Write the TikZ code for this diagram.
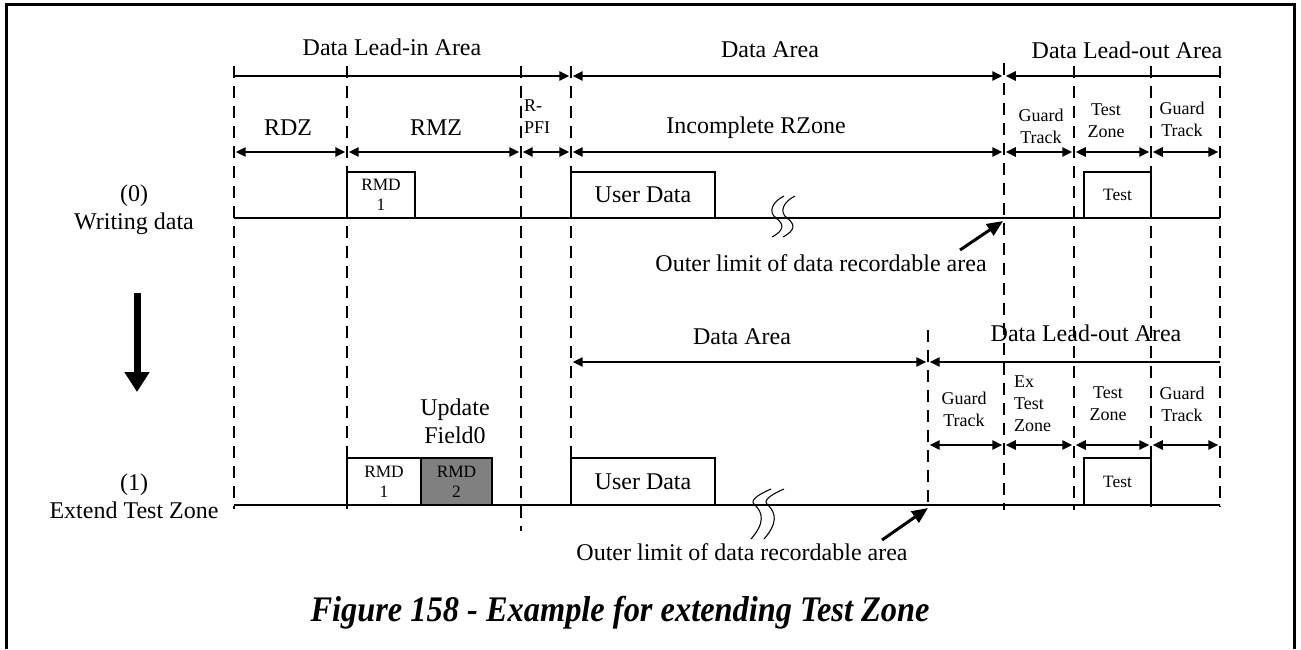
\documentclass[tikz,border=0pt]{standalone}
\usepackage{fontspec}
\usepackage{graphicx}
\setmainfont{Liberation Serif}
\usetikzlibrary{arrows.meta}
\begin{document}
\begin{tikzpicture}[x=0.75pt,y=-0.75pt,
  every node/.style={inner sep=0pt, outer sep=0pt},
  big/.style={font=\fontsize{18}{21}\selectfont, align=center},
  sml/.style={font=\fontsize{13.5}{16.5}\selectfont, align=center},
  smll/.style={font=\fontsize{13.5}{16.5}\selectfont, align=left},
  boxtxt/.style={font=\fontsize{13}{15}\selectfont, align=center},
  frameline/.style={line width=2.25pt},
  solidline/.style={line width=1.5pt},
  dashline/.style={line width=1.5pt, dash pattern=on 9pt off 6pt},
  dimboth/.style={line width=1.5pt, {Triangle[length=7.5pt,width=7pt]}-{Triangle[length=7.5pt,width=7pt]}, shorten <=1.3pt, shorten >=1.3pt},
  dimright/.style={line width=1.5pt, -{Triangle[length=7.5pt,width=7pt]}, shorten >=1.3pt},
  dimleft/.style={line width=1.5pt, {Triangle[length=7.5pt,width=7pt]}-, shorten <=1.3pt},
  ptr/.style={line width=2.25pt, -{Triangle[length=12pt,width=10pt]}},
  blk/.style={draw, line width=1.5pt, minimum height=34.5pt},
  blkB/.style={draw, line width=1.5pt, minimum height=35.25pt},
  brkA/.pic={\draw[line width=0.8pt] (8,-22) .. controls (-4,-16) and (-8,-6) .. (0,0) .. controls (8,6) and (9,12) .. (-4,19);},
  brkB/.pic={\draw[line width=0.8pt] (16,-16) .. controls (2,-10) and (-6,-4) .. (0,0) .. controls (8,8) and (10,18) .. (-4,34);}
]
\useasboundingbox (0,0) rectangle (1301,649);
% frame
\coordinate (fr1) at (6,649); \coordinate (fr2) at (6,5);
\coordinate (fr3) at (1294,5); \coordinate (fr4) at (1294,649);
\draw[frameline] (fr1) -- (fr2) -- (fr3) -- (fr4);

% dashed guide lines
\draw[dashline] (234,66) -- (234,509);
\draw[dashline] (347,66) -- (347,509);
\draw[dashline] (521,66) -- (521,531);
\draw[dashline] (571,66) -- (571,458);
\draw[dashline] (1004,63) -- (1004,510);
\draw[dashline] (1074,66) -- (1074,510);
\draw[dashline] (1151,66) -- (1151,507);
\draw[dashline] (1220,66) -- (1220,507);
\draw[dashline] (928,330) -- (928,507);

% coordinates on arrow rows
\foreach \n/\x in {a/234,b/347,c/521,d/571,e/1004,f/1074,g/1151,h/1220}{
  \coordinate (\n1) at (\x,76);
  \coordinate (\n2) at (\x,152);
  \coordinate (\n3) at (\x,362);
  \coordinate (\n4) at (\x,445);
}
\coordinate (n3) at (928,362);
\coordinate (n4) at (928,445);

% row 1
\draw[dimright] (a1) -- (d1);
\draw[dimboth] (d1) -- (e1);
\draw[dimleft] (e1) -- (h1);
% row 2
\draw[dimboth] (a2) -- (b2);
\draw[dimboth] (b2) -- (c2);
\draw[dimboth] (c2) -- (d2);
\draw[dimboth] (d2) -- (e2);
\draw[dimboth] (e2) -- (f2);
\draw[dimboth] (f2) -- (g2);
\draw[dimboth] (g2) -- (h2);
% row 3
\draw[dimboth] (d3) -- (n3);
\draw[dimleft] (n3) -- (h3);
% row 4
\draw[dimboth] (n4) -- (e4);
\draw[dimboth] (e4) -- (f4);
\draw[dimboth] (f4) -- (g4);
\draw[dimboth] (g4) -- (h4);

% top titles
\node[big] (tLI) at (392,47) {Data Lead-in Area};
\node[big] (tDA) at (770,50) {Data Area};
\node[big] (tLO) at (1127,50) {Data Lead-out Area};
\node[big] (rdz) at (288,128) {RDZ};
\node[big] (rmz) at (436,128) {RMZ};
\node[smll, anchor=west] (rpfi) at (524,117) {R-\\PFI};
\node[big] (irz) at (756,128) {Incomplete RZone};
\node[sml] (gt1) at (1041,126) {Guard\\Track};
\node[sml] (tz1) at (1106,121) {Test\\Zone};
\node[sml] (gt2) at (1182,119) {Guard\\Track};

% top boxes and baseline
\coordinate (bl0a) at (234,218); \coordinate (bl0b) at (1220,218);
\node[blk, minimum width=51pt, boxtxt] (rmdA) at (381,195) {RMD\\1};
\node[blk, minimum width=108pt, big] (udA) at (643,195) {User Data};
\node[blk, minimum width=50.25pt, boxtxt] (testA) at (1117.5,195) {Test};
\draw[solidline] (bl0a) -- (bl0b);
\node[big] (lab0) at (134,210) {(0)\\Writing data};
\pic at (776,218) {brkA};
\pic at (787,218) {brkA};
\coordinate (p1s) at (960,250); \coordinate (p1e) at (1003,221);
\draw[ptr] (p1s) -- (p1e);
\node[big] (ol1) at (821,263) {Outer limit of data recordable area};

% big down arrow
\coordinate (dn1) at (137,293); \coordinate (dn2) at (137,392);
\draw[line width=5.25pt, -{Triangle[length=15pt,width=18pt]}] (dn1) -- (dn2);

% lower labels
\node[big] (tDA2) at (742,337) {Data Area};
\node[big] (tLO2) at (1086,333) {Data Lead-out Area};
\node[sml] (gt3) at (964,409) {Guard\\Track};
\node[smll, anchor=west] (etz) at (1014,404) {Ex\\Test\\Zone};
\node[sml] (tz2) at (1108,404) {Test\\Zone};
\node[sml] (gt4) at (1182,404) {Guard\\Track};
\node[big] (upd) at (455,421) {Update\\Field0};

% lower boxes and baseline
\coordinate (bl1a) at (234,505); \coordinate (bl1b) at (1220,505);
\node[blkB, minimum width=55.5pt, boxtxt] (rmdB1) at (384,481.5) {RMD\\1};
\node[blkB, minimum width=53.25pt, boxtxt, fill={rgb,255:red,128;green,128;blue,128}] (rmdB2) at (456.5,481.5) {RMD\\2};
\node[blkB, minimum width=108pt, big] (udB) at (643,481.5) {User Data};
\node[blkB, minimum width=50.25pt, boxtxt] (testB) at (1117.5,481.5) {Test};
\draw[solidline] (bl1a) -- (bl1b);
\node[big] (lab1) at (134,496) {(1)\\Extend Test Zone};
\pic at (755,505) {brkB};
\pic at (768,505) {brkB};
\coordinate (p2s) at (882,540); \coordinate (p2e) at (928,508);
\draw[ptr] (p2s) -- (p2e);
\node[big] (ol2) at (742,552) {Outer limit of data recordable area};

% caption
\node[font=\bfseries\itshape\fontsize{27}{32}\selectfont] (cap) at (620,613) {\scalebox{0.9}[1]{Figure 158 - Example for extending Test Zone}};
\end{tikzpicture}
\end{document}
